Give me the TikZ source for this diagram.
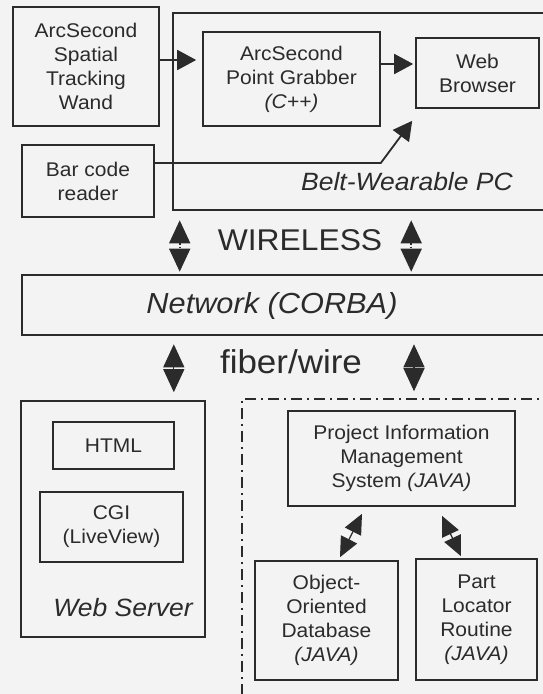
\documentclass[tikz,border=0pt]{standalone}
\usepackage{fontspec}
\setmainfont[FakeStretch=1.06]{Liberation Sans}
\usetikzlibrary{arrows.meta}
\definecolor{ink}{HTML}{2B2B2B}
\definecolor{paper}{HTML}{F3F3F3}
\newcommand{\boxfont}{\fontsize{19.8}{24}\selectfont}

\begin{document}
\begin{tikzpicture}[x=1pt,y=-1pt,
  every node/.style={text=ink},
  blk/.style={draw=ink,line width=1.6pt,align=center,font=\boxfont,inner sep=0pt},
  holder/.style={draw=ink,line width=2.6pt,inner sep=0pt},
  lbl/.style={font=\fontsize{25}{30}\selectfont\itshape},
  big/.style={font=\fontsize{30}{36}\selectfont},
  arr/.style={draw=ink,line width=1.8pt,-{Triangle[length=19pt,width=20pt]}},
  wlink/.style={draw=ink,line width=1.6pt,dotted,{Triangle[length=23pt,width=21pt]}-{Triangle[length=23pt,width=21pt]}},
  flink/.style={draw=ink,line width=1.2pt,{Triangle[length=23pt,width=21pt]}-{Triangle[length=23pt,width=21pt]}},
  slink/.style={draw=ink,line width=1.2pt,{Triangle[length=20pt,width=18pt]}-{Triangle[length=20pt,width=18pt]}}]
\fill[paper] (0,0) rectangle (543,694);
\useasboundingbox (0,0) rectangle (543,694);

\node[blk,minimum width=146pt,minimum height=119pt] (wand) at (86,66.5) {ArcSecond\\Spatial\\Tracking\\Wand};
\node[holder,minimum width=390pt,minimum height=197pt] (belt) at (368,111.5) {};
\node[blk,minimum width=177pt,minimum height=94pt] (grab) at (291.5,79) {ArcSecond\\Point Grabber\\\textit{(C++)}};
\node[blk,minimum width=123pt,minimum height=70pt] (web) at (477.5,73) {Web\\Browser};
\node[blk,minimum width=132pt,minimum height=72pt] (bar) at (88,181) {Bar code\\reader};
\node[lbl] (beltlbl) at (407,182) {Belt-Wearable PC};

\node[holder,minimum width=541pt,minimum height=60pt] (net) at (292.5,305) {};
\node[font=\fontsize{29}{34}\selectfont\itshape] (netlbl) at (272,306) {Network (CORBA)};
\node[big] (wless) at (300,240) {WIRELESS};
\node[big,font=\fontsize{33}{38}\selectfont] (fiber) at (291,362) {fiber/wire};

\node[blk,minimum width=184pt,minimum height=236pt] (srv) at (113,519) {};
\node[blk,minimum width=121pt,minimum height=47pt] (html) at (113.5,445.5) {HTML};
\node[blk,minimum width=143pt,minimum height=70pt] (cgi) at (111.5,527) {CGI\\(LiveView)};
\node[lbl] (srvlbl) at (123,608) {Web Server};

\node[draw=ink,line width=1.6pt,dash pattern=on 11pt off 5pt on 2pt off 5pt,minimum width=330pt,minimum height=320pt,inner sep=0pt] (tools) at (407,559) {};
\node[blk,minimum width=227pt,minimum height=95pt] (pims) at (401.5,458.5) {Project Information\\Management\\System \textit{(JAVA)}};
\node[blk,minimum width=143pt,minimum height=119pt] (odb) at (326.5,620.5) {Object-\\Oriented\\Database\\\textit{(JAVA)}};
\node[blk,minimum width=121pt,minimum height=121pt] (loc) at (476.5,619.5) {Part\\Locator\\Routine\\\textit{(JAVA)}};

\coordinate (w1) at ([yshift=6.5pt]wand.east);
\draw[arr,shorten >=6pt] (w1) -- (w1 -| grab.west);
\coordinate (g1) at ([yshift=15pt]grab.east);
\draw[arr,shorten >=2pt] (g1) -- (g1 -| web.west);
\coordinate (b1) at ([yshift=18pt]bar.east);
\draw[arr] (b1) -- (b1 -| grab.east) -- ([xshift=-3pt,yshift=-12pt]web.south west);

\coordinate (wa) at ([xshift=8pt]belt.south west);
\coordinate (wb) at ([xshift=-4pt]web.south west);
\draw[wlink,shorten <=9pt,shorten >=2pt] (wa) -- (wa |- net.north);
\draw[wlink,shorten <=9pt,shorten >=2pt] (wb |- belt.south) -- (wb |- net.north);

\coordinate (fa) at ([xshift=-32pt]srv.north east);
\coordinate (fb) at ([xshift=12.5pt]pims.north);
\draw[flink,shorten <=8pt,shorten >=8pt] (fa |- net.south) -- (fa);
\draw[flink,shorten <=8pt,shorten >=7pt] (fb |- net.south) -- (fb |- tools.north);

\draw[slink] ([xshift=-39.5pt,yshift=-7pt]pims.south) -- ([xshift=13.5pt,yshift=3pt]odb.north);
\draw[slink] ([xshift=40.5pt,yshift=-9pt]pims.south) -- ([xshift=-15.5pt,yshift=2pt]loc.north);
\end{tikzpicture}
\end{document}
